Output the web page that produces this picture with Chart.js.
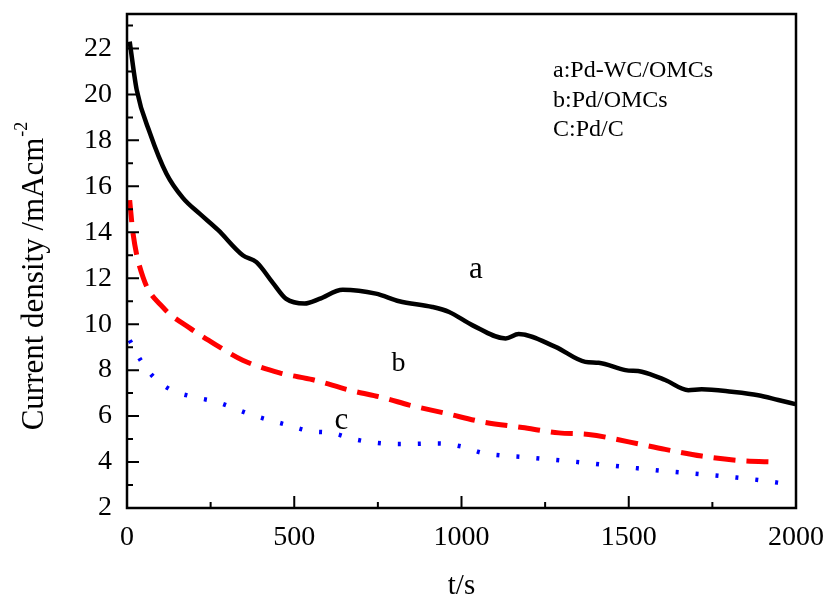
<!DOCTYPE html>
<html>
<head>
<meta charset="utf-8">
<script src="https://cdn.jsdelivr.net/npm/chart.js@4.4.1/dist/chart.umd.min.js"></script>
<style>
  html, body { margin: 0; padding: 0; background: #fff; }
  canvas { display: block; }
</style>
</head>
<body>
<canvas id="chart" width="830" height="599"></canvas>
<script>
// time (s) and current density (mA cm^-2)
const timeA = [8, 29, 69, 118, 167, 218, 272, 346, 387, 436, 476, 531, 575, 645, 744, 814, 913, 963, 1032, 1132, 1171, 1281, 1370, 1410, 1490, 1539, 1609, 1678, 1718, 1808, 1887, 1947, 1998]
const currA = [22.3, 20.2, 18.3, 16.55, 15.5, 14.8, 14.1, 13.0, 12.7, 11.8, 11.1, 10.9, 11.1, 11.5, 11.33, 11.0, 10.75, 10.53, 9.96, 9.38, 9.57, 9.01, 8.36, 8.32, 8.0, 7.93, 7.57, 7.13, 7.17, 7.06, 6.91, 6.7, 6.52]

const timeB = [8, 18, 48, 107, 188, 267, 346, 456, 556, 665, 774, 844, 953, 1062, 1182, 1291, 1380, 1500, 1609, 1718, 1837, 1940]
const currB = [15.4, 13.95, 12.04, 10.74, 9.83, 9.09, 8.43, 7.88, 7.58, 7.13, 6.77, 6.48, 6.12, 5.75, 5.5, 5.27, 5.2, 4.88, 4.55, 4.26, 4.06, 4.0]

const timeC = [8, 44, 83, 133, 197, 267, 376, 480, 546, 614, 680, 744, 814, 933, 1002, 1062, 1201, 1341, 1460, 1599, 1748, 1887, 1962, 1995]
const currC = [9.3, 8.36, 7.65, 7.13, 6.84, 6.62, 6.04, 5.61, 5.35, 5.26, 4.99, 4.84, 4.78, 4.81, 4.67, 4.4, 4.2, 4.01, 3.83, 3.62, 3.43, 3.22, 3.07, 3.0]

const xTicks = [0, 500, 1000, 1500, 2000]
const xMinor = [250, 750, 1250, 1750]
const yTicks = [2, 4, 6, 8, 10, 12, 14, 16, 18, 20, 22]
const yMinor = [3, 5, 7, 9, 11, 13, 15, 17, 19, 21, 23]

const legendLines = ["a:Pd-WC/OMCs", "b:Pd/OMCs", "C:Pd/C"]
const curveLabels = ["a", "b", "c"]
const curveLabelAt = [[1043, 12.35], [812, 8.3], [641, 5.8]]

const serif = "'Liberation Serif', 'Times New Roman', serif"
const pts = (xs, ys) => xs.map((x, i) => ({ x, y: ys[i] }))

const frame = {
  id: "frame",
  afterDraw(chart) {
    const { ctx, chartArea: a, scales: { x, y } } = chart
    ctx.save()
    ctx.strokeStyle = "#000"
    ctx.lineWidth = 2.5
    ctx.strokeRect(a.left, a.top, a.right - a.left, a.bottom - a.top)

    // inward tick marks
    ctx.lineWidth = 2
    ctx.beginPath()
    xTicks.forEach(v => { const px = x.getPixelForValue(v); ctx.moveTo(px, a.bottom); ctx.lineTo(px, a.bottom - 12) })
    xMinor.forEach(v => { const px = x.getPixelForValue(v); ctx.moveTo(px, a.bottom); ctx.lineTo(px, a.bottom - 6) })
    yTicks.forEach(v => { const py = y.getPixelForValue(v); ctx.moveTo(a.left, py); ctx.lineTo(a.left + 12, py) })
    yMinor.forEach(v => { const py = y.getPixelForValue(v); ctx.moveTo(a.left, py); ctx.lineTo(a.left + 6, py) })
    ctx.stroke()

    ctx.fillStyle = "#000"

    // axis titles
    ctx.font = `29px ${serif}`
    ctx.textAlign = "center"
    ctx.textBaseline = "middle"
    ctx.fillText("t/s", (a.left + a.right) / 2, 586)

    ctx.save()
    ctx.translate(43, 284)
    ctx.rotate(-Math.PI / 2)
    ctx.font = `31px ${serif}`
    ctx.textAlign = "left"
    ctx.textBaseline = "alphabetic"
    const main = "Current density /mAcm"
    const w = ctx.measureText(main).width
    ctx.fillText(main, -w / 2, 0)
    ctx.font = `18px ${serif}`
    ctx.fillText("-2", w / 2 + 1, -16)
    ctx.restore()

    // legend text
    ctx.font = `24px ${serif}`
    ctx.textAlign = "left"
    ctx.textBaseline = "alphabetic"
    legendLines.forEach((t, i) => ctx.fillText(t, 553, 77 + i * 29.5))

    // curve labels
    ctx.textAlign = "center"
    ctx.textBaseline = "middle"
    curveLabels.forEach((t, i) => {
      ctx.font = `${i === 1 ? 28 : 31}px ${serif}`
      const [vx, vy] = curveLabelAt[i]
      ctx.fillText(t, x.getPixelForValue(vx), y.getPixelForValue(vy))
    })
    ctx.restore()
  }
}

new Chart(document.getElementById("chart"), {
  type: "line",
  data: {
    datasets: [
      { label: "a", data: pts(timeA, currA), borderColor: "#000", borderWidth: 4.5 },
      { label: "b", data: pts(timeB, currB), borderColor: "#f00", borderWidth: 5, borderDash: [22, 11] },
      { label: "c", data: pts(timeC, currC), borderColor: "#00f", borderWidth: 4.5, borderDash: [3, 17] }
    ]
  },
  options: {
    responsive: false,
    animation: false,
    devicePixelRatio: 1,
    layout: { padding: { top: 14, right: 34, left: 0, bottom: 0 } },
    elements: {
      point: { radius: 0 },
      line: { cubicInterpolationMode: "monotone", fill: false }
    },
    plugins: { legend: { display: false }, tooltip: { enabled: false } },
    scales: {
      x: {
        type: "linear",
        min: 0,
        max: 2000,
        afterBuildTicks: s => { s.ticks = xTicks.map(value => ({ value })) },
        afterFit: s => { s.height = 91; s.paddingLeft = 0; s.paddingRight = 0 },
        grid: { display: false, drawTicks: false },
        border: { display: false },
        ticks: { color: "#000", font: { family: serif, size: 28 }, padding: 13, maxRotation: 0, callback: v => String(v) }
      },
      y: {
        type: "linear",
        min: 2,
        max: 23.5,
        afterBuildTicks: s => { s.ticks = yTicks.map(value => ({ value })) },
        afterFit: s => { s.width = 127; s.paddingTop = 0; s.paddingBottom = 0 },
        grid: { display: false, drawTicks: false },
        border: { display: false },
        ticks: { color: "#000", font: { family: serif, size: 28 }, padding: 15, callback: v => String(v) }
      }
    }
  },
  plugins: [frame]
})
</script>
</body>
</html>
